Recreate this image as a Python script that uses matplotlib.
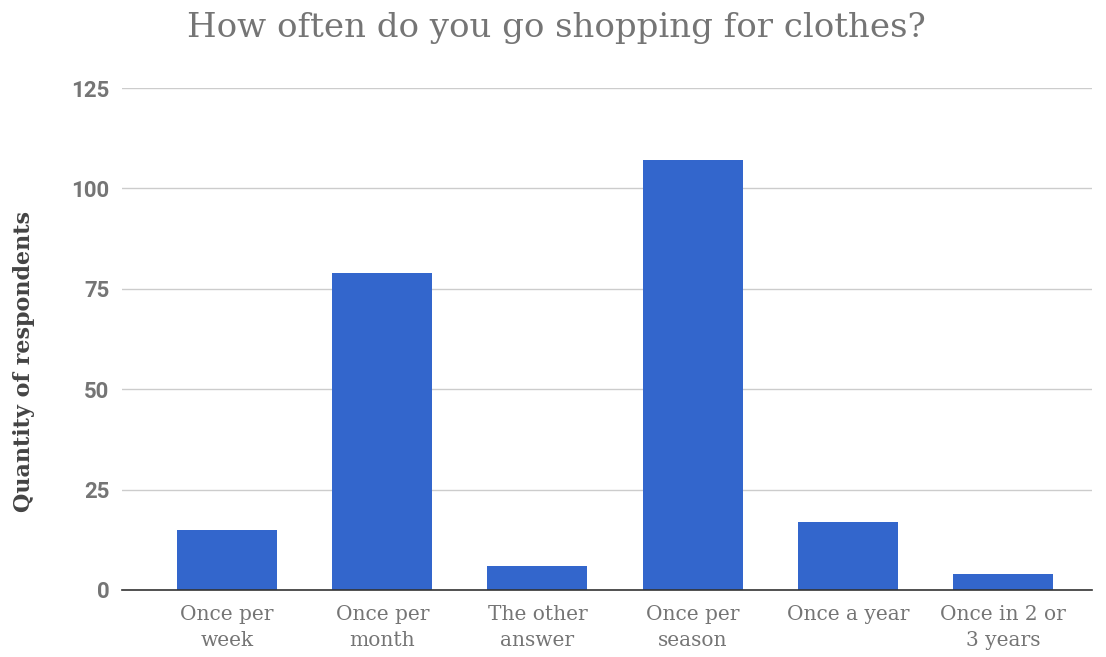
import matplotlib

matplotlib.use("Agg")
import matplotlib.pyplot as plt
import numpy as np

categories = [
    "Once per\nweek",
    "Once per\nmonth",
    "The other\nanswer",
    "Once per\nseason",
    "Once a year",
    "Once in 2 or\n3 years",
]
respondents = [15, 79, 6, 107, 17, 4]
y_ticks = [0, 25, 50, 75, 100, 125]

BAR_COLOR = "#3366cc"
TEXT_GRAY = "#757575"

fig = plt.figure(figsize=(11.06, 6.57), dpi=100)
ax = fig.add_axes([0.1103, 0.102, 0.877, 0.764])

x = np.arange(len(categories))
ax.bar(x, respondents, width=0.644, color=BAR_COLOR, zorder=3)

ax.set_xlim(-0.677, len(categories) - 0.427)
ax.set_ylim(0, 125)
ax.set_yticks(y_ticks)
ax.set_yticklabels([str(t) for t in y_ticks], family="Roboto", fontweight="bold",
                   fontsize=16, color=TEXT_GRAY)
ax.set_xticks(x)
ax.set_xticklabels(categories, family="DejaVu Serif", fontsize=14.5, color=TEXT_GRAY,
                   linespacing=1.45)
ax.tick_params(axis="both", length=0)
ax.tick_params(axis="y", pad=9)
ax.tick_params(axis="x", pad=11)

ax.grid(axis="y", color="#cccccc", linewidth=1.0, zorder=0)
for side in ["top", "right", "left"]:
    ax.spines[side].set_visible(False)
ax.spines["bottom"].set_color("#333333")
ax.spines["bottom"].set_linewidth(1.2)
ax.spines["bottom"].set_zorder(4)

ax.set_ylabel("Quantity of respondents", family="DejaVu Serif", fontweight="bold",
              fontsize=16, color="#444444")
ax.yaxis.set_label_coords(-0.09, 0.455)

fig.text(0.503, 0.957, "How often do you go shopping for clothes?", ha="center",
         va="center", family="DejaVu Serif", fontsize=24.5, color=TEXT_GRAY)

fig.savefig("out.png", dpi=100)
